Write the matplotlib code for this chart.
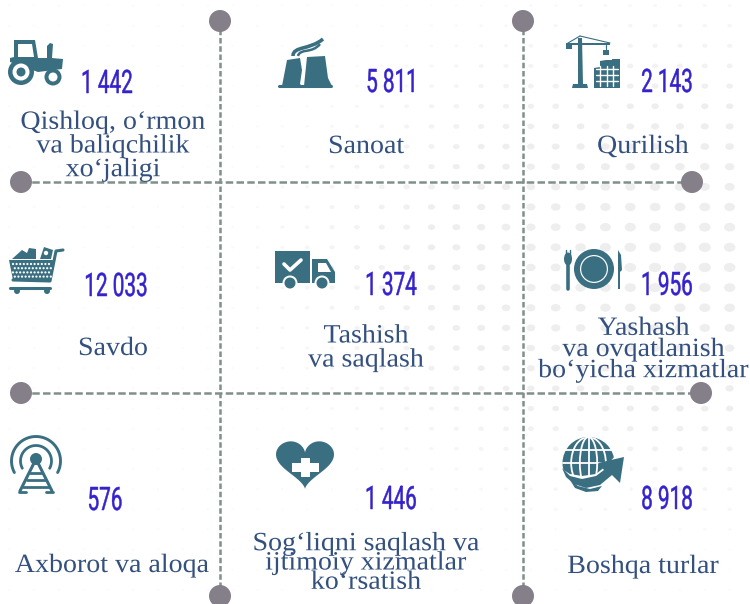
#Infographic: employment by sector, 3x3 grid with icons
import matplotlib
matplotlib.use("Agg")
import matplotlib.pyplot as plt
import numpy as np
from matplotlib.patches import Circle, Ellipse, Polygon, Rectangle, PathPatch
from matplotlib.path import Path
from matplotlib.patheffects import AbstractPathEffect
from matplotlib.transforms import Affine2D

#DATA
values=['1 442','5 811','2 143','12 033','1 374','1 956','576','1 446','8 918']
labels=['Qishloq, o‘rmon\nva baliqchilik\nxo‘jaligi','Sanoat','Qurilish',
        'Savdo','Tashish\nva saqlash','Yashash\nva ovqatlanish\nbo‘yicha xizmatlar',
        'Axborot va aloqa','Sog‘liqni saqlash va\nijtimoiy xizmatlar\nko‘rsatish','Boshqa turlar']
value_pos=[(107,84.5),(392,83.5),(667,83.5),(116,287.5),(391,286.5),(667,286.5),(105,501.5),(391,500.5),(667,500.5)]
label_pos=[(113,146.5),(366,147),(643,147),(113,349),(366,348.5),(643.5,350),(112,566),(366,563.5),(643,567)]
label_gap=[1.1,1,1,1,1.12,0.95,1,0.84,1]

TEAL='#3a6f82'
NAVY='#33507f'
BLUE='#3422cc'
GREY='#857f8a'
DASH='#7f9089'

#squeezes or widens text sideways around a pixel column, text stays real text
class Stretch(AbstractPathEffect):
    def __init__(self,sx,cx,bold=0):
        super().__init__()
        self.sx=sx
        self.cx=cx
        self.bold=bold
    def draw_path(self,renderer,gc,tpath,affine,rgbFace=None):
        a=affine+Affine2D().translate(-self.cx,0).scale(self.sx,1).translate(self.cx,0)
        gc0=renderer.new_gc()
        gc0.copy_properties(gc)
        gc0.set_linewidth(self.bold)
        gc0.set_foreground(rgbFace)
        renderer.draw_path(gc0,tpath,a,rgbFace)
        gc0.restore()

fig=plt.figure(figsize=(7.5,6.04),dpi=100)
ax=fig.add_axes([0,0,1,1])
ax.set_xlim(0,750)
ax.set_ylim(604,0)
ax.axis('off')

#BACKGROUND DOTS (decoration, bigger and darker around the right side)
for i in range(31):
    for j in range(30):
        px=9+24.85*i
        py=5.5+20.15*j
        if px>745 or py>600:
            continue
        d=np.hypot((px-680)/470,(py-260)/290)
        k=max(0,1-d)
        r=1.2+4.6*k
        shade=0.985-0.05*min(1,k*2.2)
        ax.add_patch(Ellipse((px,py),2*r*1.1,2*r*0.85,color=(shade,shade,shade),lw=0,zorder=1))

#GRID LINES
ax.plot([220,220],[21,596],color=DASH,lw=1.8,ls=(0,(2.2,1.1)),zorder=2)
ax.plot([523,523],[21,596],color=DASH,lw=1.8,ls=(0,(2.2,1.1)),zorder=2)
ax.plot([21,692],[182,182],color=DASH,lw=1.8,ls=(0,(3,1.3)),zorder=2)
ax.plot([21,701],[393,393],color=DASH,lw=1.8,ls=(0,(3,1.3)),zorder=2)
for c in [(220,21),(523,21),(21,182),(692,182),(21,393),(701,393),(220,596),(523,596)]:
    ax.add_patch(Circle(c,11,color=GREY,lw=0,zorder=3))

def poly(pts,color=TEAL,z=4):
    ax.add_patch(Polygon(pts,closed=True,color=color,lw=0,zorder=z))
def circ(c,r,color=TEAL,z=4):
    ax.add_patch(Circle(c,r,color=color,lw=0,zorder=z))
def line(pts,lw=1.5,color=TEAL,z=4):
    xs,ys=zip(*pts)
    ax.plot(xs,ys,color=color,lw=lw,solid_capstyle='round',zorder=z)

#TRACTOR
poly([(14,40),(35,40),(38,58),(47,58),(47,46),(50,43),(53,44),(52,58),(63,59),(62,69),(38,72),(10,62),(10,58),(14,57)])
poly([(18,44),(32,44),(34,57),(18,57)],'white',5)
circ((21,72),13);circ((21,72),8.5,'white',5);circ((21,72),4.5,TEAL,6)
circ((53,77),8.5);circ((53,77),4.5,'white',5)

#FACTORY
poly([(282,86),(287,60),(300,58),(302,70),(300,84),(302,86)])
poly([(304,86),(307,57),(325,56),(328,78),(332,86)])
line([(279,86),(331,86)],2.2)
ax.add_patch(PathPatch(Path([(293,56),(293,46),(310,50),(323,39)],[1,4,4,4]),fc='none',ec=TEAL,lw=2.6,zorder=4))
ax.add_patch(PathPatch(Path([(298,56),(300,48),(312,54),(320,44)],[1,4,4,4]),fc='none',ec=TEAL,lw=1.8,zorder=4))

#CRANE
poly([(578,38),(582,38),(583,84),(578,84)])
poly([(572,88),(573,84),(587,84),(588,88)])
poly([(566,43),(610,43),(610,45),(572,45),(572,49),(566,49)])
line([(580,36),(610,43)],0.8);line([(580,36),(568,43)],0.8)
line([(606,45),(606,50)],0.8)
poly([(603,50),(609,50),(609,55),(603,55)])
poly([(594,68),(600,67),(600,61),(606,60),(612,60),(612,59),(620,59),(620,88),(594,88)])
for v in [600,606.5,613]:
    line([(v,66),(v,86)],1,'white',5)
for h in [69,75,81]:
    line([(596,h),(618,h)],1,'white',5)

#CART
poly([(9,260),(53,260),(50,280),(13,280)])
line([(13,280),(50,281),(56,251),(63,250)],2.2)
line([(10,288),(50,288)],2.2)
circ((17,291),3);circ((47,291),3)
poly([(12,259),(22,250),(27,253),(29,248),(36,249),(36,259)])
poly([(40,259),(44,247),(53,250),(51,259)])
circ((46,253),2.2,'white',5)
for a in range(4):
    for b in range(11):
        circ((13+b*3.6+(a%2)*1.8,264+a*4.2),1.1,'white',5)

#TRUCK
ax.add_patch(Rectangle((275,251),35,32,color=TEAL,lw=0,zorder=4))
poly([(312,259),(327,259),(335,272),(335,283),(312,283)])
poly([(318,263),(326,263),(331,272),(318,272)],'white',5)
line([(284,264),(290,270),(301,260)],2.6,'white',5)
circ((290,283),7.5,'white',5);circ((290,283),5.5,TEAL,6)
circ((322,283),7.5,'white',5);circ((322,283),5.5,TEAL,6)

#PLATE AND CUTLERY
circ((594,269),20);circ((594,269),14,'white',5);circ((594,269),12.8,TEAL,6)
line([(568,265),(568,289)],2.6)
ax.add_patch(Ellipse((568,259),8,13,color=TEAL,lw=0,zorder=4))
line([(566,250),(566,257)],1);line([(570,250),(570,257)],1)
poly([(618,250),(621,255),(622,270),(620,272),(620,289),(618,289)])

#ANTENNA
circ((36,459),6)
for r,w in [(15.5,2),(24.5,2.1)]:
    t=np.radians(np.linspace(-28,208,40))
    line(list(zip(36+r*np.cos(t),461-r*np.sin(t))),w)
line([(34,463),(20,491)],2.2);line([(38,463),(52,491)],2.2)
line([(19,492),(26,492)],2);line([(46,492),(53,492)],2)
for h,a,b in [(473,30,42),(480,27,45),(487,23,49)]:
    line([(a,h),(b,h)],2)

#HEART WITH CROSS
t=np.linspace(0,2*np.pi,120)
hx=16*np.sin(t)**3
hy=13*np.cos(t)-5*np.cos(2*t)-2*np.cos(3*t)-np.cos(4*t)
poly(list(zip(305+29/16*hx,461-1.65*hy)))
poly([(301,458),(310,458),(310,463),(319,463),(319,472),(310,472),(310,477),(301,477),(301,472),(292,472),(292,463),(301,463)],'white',5)

#GLOBE WITH ARROW
gc=Circle((588.5,463),26,color=TEAL,lw=0,zorder=4)
ax.add_patch(gc)
for wd in [56,28]:
    e=Ellipse((588.5,463),wd*0.62,52,fc='none',ec='white',lw=1.3,zorder=5)
    ax.add_patch(e);e.set_clip_path(gc)
line([(588.5,437),(588.5,478)],1.3,'white',5)
for h in [450,463]:
    line([(563,h),(614,h)],1.3,'white',5)
#white gap under the arrow, then swoosh and head
poly([(560,468),(570,474),(582,476),(596,474),(606,466),(616,455),(630,455),(630,495),(600,495),(575,493),(560,480)],'white',5)
poly([(562,468),(570,476),(582,479),(596,476),(604,470),(598,463),(624,457),(620,483),(612,475),(600,485),(586,488),(574,484),(566,477)],TEAL,6)
poly([(570,480),(578,486),(590,489),(602,486),(598,491),(586,492),(575,488)],TEAL,6)

#TEXT
for (x,y),v in zip(value_pos,values):
    ax.text(x,y,v,ha='center',va='center',fontsize=23.3,color=BLUE,family='Roboto',zorder=8,
            path_effects=[Stretch(0.64,x,0.35)])
for (x,y),l,g in zip(label_pos,labels,label_gap):
    ax.text(x,y,l,ha='center',va='center',ma='center',fontsize=19,linespacing=g,color=NAVY,
            family=['Liberation Serif','DejaVu Serif'],zorder=8,path_effects=[Stretch(1.06,x)])

plt.savefig('out.png',dpi=100)
